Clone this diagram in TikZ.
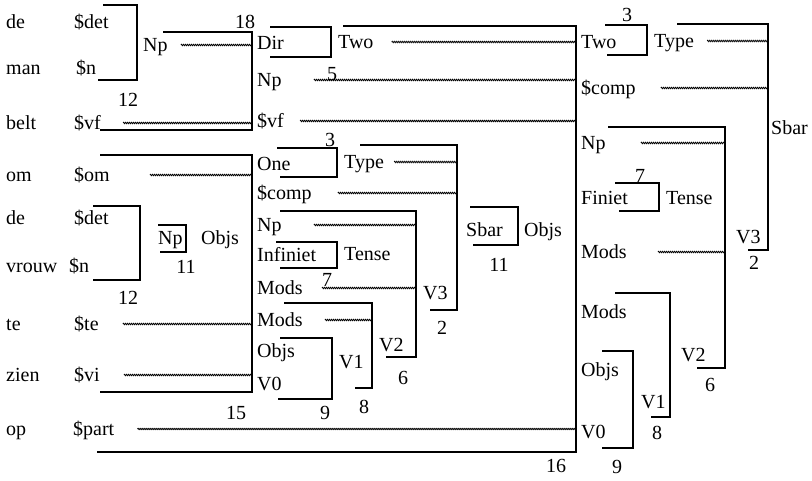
\documentclass[tikz,border=0pt]{standalone}
\usepackage{fontspec}
\setmainfont{Liberation Serif}
\usepackage{tikz}
\usetikzlibrary{decorations.pathmorphing}

\begin{document}
\begin{tikzpicture}[
        x=1pt, y=-1pt,
        lbl/.style={
            anchor=west,
            inner sep=1pt,
            text height=13pt,
            text depth=0pt,
            font=\fontsize{20}{22}\selectfont
        },
        num/.style={lbl, anchor=center},
        brk/.style={line width=2.4pt},
        wave/.style={
            line width=0.8pt,
            decorate,
            decoration={snake, amplitude=0.7pt, segment length=2pt}
        }
    ]
        \useasboundingbox (0,0) rectangle (812,481);

        % words
        \node[lbl] (wDe) at (5,22) {de};
        \node[lbl] (wMan) at (5,68) {man};
        \node[lbl] (wBelt) at (5,123) {belt};
        \node[lbl] (wOm) at (5,175) {om};
        \node[lbl] (wDe2) at (5,218) {de};
        \node[lbl] (wVrouw) at (5,266) {vrouw};
        \node[lbl] (wTe) at (5,324) {te};
        \node[lbl] (wZien) at (5,375) {zien};
        \node[lbl] (wOp) at (5,429) {op};

        % lexical categories
        \node[lbl] (cDet) at (73,22) {\$det};
        \node[lbl] (cN) at (75,68) {\$n};
        \node[lbl] (cVf) at (73,123) {\$vf};
        \node[lbl] (cOm) at (73,175) {\$om};
        \node[lbl] (cDet2) at (73,218) {\$det};
        \node[lbl] (cN2) at (68,266) {\$n};
        \node[lbl] (cTe) at (73,324) {\$te};
        \node[lbl] (cVi) at (73,375) {\$vi};
        \node[lbl] (cPart) at (72,429) {\$part};

        % middle column
        \node[lbl] (lNp) at (142,45) {Np};
        \node[lbl] (lNp2) at (157,238) {Np};
        \node[lbl] (lObjs) at (200,238) {Objs};
        \node[lbl] (mDir) at (256,43) {Dir};
        \node[lbl] (mNp) at (256,80) {Np};
        \node[lbl] (mVf) at (256,121) {\$vf};
        \node[lbl] (mOne) at (256,164) {One};
        \node[lbl] (mComp) at (256,193) {\$comp};
        \node[lbl] (mNp2) at (256,225) {Np};
        \node[lbl] (mInf) at (256,255) {Infiniet};
        \node[lbl] (mMods) at (256,288) {Mods};
        \node[lbl] (mMods2) at (256,320) {Mods};
        \node[lbl] (mObjs) at (256,351) {Objs};
        \node[lbl] (mV0) at (256,384) {V0};
        \node[lbl] (mTwo) at (337,42) {Two};
        \node[lbl] (mType) at (343,162) {Type};
        \node[lbl] (mTense) at (343,254) {Tense};
        \node[lbl] (mV3) at (422,293) {V3};
        \node[lbl] (mV2) at (378,345) {V2};
        \node[lbl] (mV1) at (338,362) {V1};
        \node[lbl] (mSbar) at (465,230) {Sbar};
        \node[lbl] (mObjs2) at (523,230) {Objs};

        % right column
        \node[lbl] (rTwo) at (580,42) {Two};
        \node[lbl] (rComp) at (580,88) {\$comp};
        \node[lbl] (rNp) at (580,143) {Np};
        \node[lbl] (rFin) at (580,198) {Finiet};
        \node[lbl] (rMods) at (580,252) {Mods};
        \node[lbl] (rMods2) at (580,312) {Mods};
        \node[lbl] (rObjs) at (580,370) {Objs};
        \node[lbl] (rV0) at (580,432) {V0};
        \node[lbl] (rType) at (653,41) {Type};
        \node[lbl] (rTense) at (665,198) {Tense};
        \node[lbl] (rSbar) at (770,128) {Sbar};
        \node[lbl] (rV3) at (735,237) {V3};
        \node[lbl] (rV2) at (680,355) {V2};
        \node[lbl] (rV1) at (640,402) {V1};

        % numbers
        \node[num] (n12a) at (128,100) {12};
        \node[num] (n18) at (245,22) {18};
        \node[num] (n12b) at (128,298) {12};
        \node[num] (n11a) at (186,267) {11};
        \node[num] (n15) at (236,413) {15};
        \node[num] (n5) at (332,74) {5};
        \node[num] (n3a) at (330,140) {3};
        \node[num] (n7a) at (327,280) {7};
        \node[num] (n2a) at (442,328) {2};
        \node[num] (n6a) at (403,378) {6};
        \node[num] (n8a) at (364,407) {8};
        \node[num] (n9a) at (325,413) {9};
        \node[num] (n11b) at (499,265) {11};
        \node[num] (n16) at (556,466) {16};
        \node[num] (n3b) at (627,15) {3};
        \node[num] (n7b) at (640,176) {7};
        \node[num] (n2b) at (754,263) {2};
        \node[num] (n6b) at (710,385) {6};
        \node[num] (n8b) at (657,433) {8};
        \node[num] (n9b) at (617,467) {9};

        % brackets
        \coordinate (k12a) at (137,5);
        \coordinate (k18) at (252,32);
        \coordinate (k12b) at (140,206);
        \coordinate (k11a) at (186,225);
        \coordinate (k15) at (252,155);
        \coordinate (kTwo) at (331,27);
        \coordinate (k16) at (576,26);
        \coordinate (kType) at (337,148);
        \coordinate (kSbar) at (457,145);
        \coordinate (kV3) at (416,211);
        \coordinate (kTense) at (337,242);
        \coordinate (kV2) at (372,303);
        \coordinate (kV1) at (332,338);
        \coordinate (kObjs) at (518,207);
        \coordinate (rkType) at (647,25);
        \coordinate (rkSbar) at (768,24);
        \coordinate (rkV3) at (725,127);
        \coordinate (rkTense) at (659,183);
        \coordinate (rkV2) at (670,293);
        \coordinate (rkV1) at (633,351);

        \draw[brk] (103,5) -- (k12a) |- (98,80);
        \draw[brk] (163,32) -- (k18) |- (100,130);
        \draw[brk] (93,206) -- (k12b) |- (93,280);
        \draw[brk] (158,225) -- (k11a) |- (160,252);
        \draw[brk] (100,155) -- (k15) |- (100,392);
        \draw[brk] (270,27) -- (kTwo) |- (270,57);
        \draw[brk] (343,26) -- (k16) |- (97,452);
        \draw[brk] (277,148) -- (kType) |- (280,177);
        \draw[brk] (360,145) -- (kSbar) |- (430,310);
        \draw[brk] (280,211) -- (kV3) |- (386,357);
        \draw[brk] (276,242) -- (kTense) |- (280,268);
        \draw[brk] (284,303) -- (kV2) |- (355,388);
        \draw[brk] (280,338) -- (kV1) |- (278,399);
        \draw[brk] (470,207) -- (kObjs) |- (473,245);
        \draw[brk] (605,25) -- (rkType) |- (607,55);
        \draw[brk] (677,24) -- (rkSbar) |- (748,250);
        \draw[brk] (608,127) -- (rkV3) |- (697,368);
        \draw[brk] (615,183) -- (rkTense) |- (619,211);
        \draw[brk] (615,293) -- (rkV2) |- (651,417);
        \draw[brk] (602,351) -- (rkV1) |- (602,448);

        % links into the brackets
        \draw[wave] ([xshift=12pt]lNp.east) -- (lNp.east -| k18);
        \draw[wave] ([xshift=21pt]cVf.east) -- (cVf.east -| k18);
        \draw[wave] ([xshift=17pt]mTwo.east) -- (mTwo.east -| k16);
        \draw[wave] ([xshift=31pt]mNp.east) -- (mNp.east -| k16);
        \draw[wave] ([xshift=15pt]mVf.east) -- (mVf.east -| k16);
        \draw[wave] ([xshift=22pt]cPart.east) -- (cPart.east -| k16);
        \draw[wave] ([xshift=39pt]cOm.east) -- (cOm.east -| k15);
        \draw[wave] ([xshift=23pt]cTe.east) -- (cTe.east -| k15);
        \draw[wave] ([xshift=23pt]cVi.east) -- (cVi.east -| k15);
        \draw[wave] ([xshift=9pt]mType.east) -- (mType.east -| kSbar);
        \draw[wave] ([xshift=25pt]mComp.east) -- (mComp.east -| kSbar);
        \draw[wave] ([xshift=31pt]mNp2.east) -- (mNp2.east -| kV3);
        \draw[wave] ([xshift=18pt]mMods.east) -- (mMods.east -| kV3);
        \draw[wave] ([xshift=21pt]mMods2.east) -- (mMods2.east -| kV2);
        \draw[wave] ([xshift=12pt]rType.east) -- (rType.east -| rkSbar);
        \draw[wave] ([xshift=24pt]rComp.east) -- (rComp.east -| rkSbar);
        \draw[wave] ([xshift=34pt]rNp.east) -- (rNp.east -| rkV3);
        \draw[wave] ([xshift=30pt]rMods.east) -- (rMods.east -| rkV3);
    \end{tikzpicture}
\end{document}
